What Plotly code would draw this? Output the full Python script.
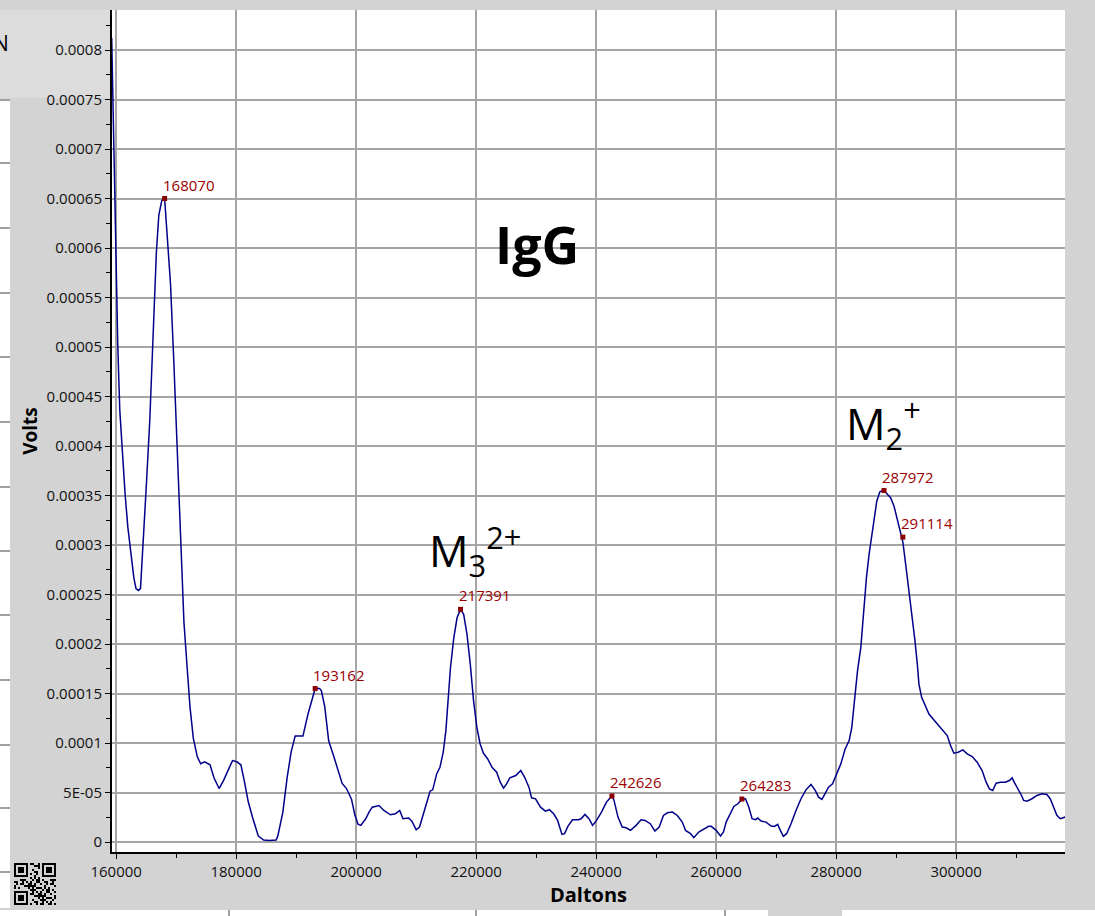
import plotly.graph_objects as go

# ---------------- data ----------------
daltons = [
    159250, 159430, 159600, 159770, 160000, 160270, 160600, 161050, 161500, 161940,
    162500, 162940, 163300, 163700, 164050, 164470, 165030, 165590, 166150, 166700,
    167100, 167600, 168070, 168490, 169050, 169610, 170170, 170730, 171290, 171850,
    172290, 172850, 173520, 174080, 174750, 175640, 176310, 177150, 177880, 178660,
    179390, 180110, 180780, 181340, 182010, 182740, 183690, 184580, 185530, 186650,
    186930, 187770, 188490, 189160, 189830, 190560, 191120, 191960, 192800, 193162,
    193900, 194190, 194750, 195420, 196150, 196990, 197660, 198380, 199220, 199780,
    200300, 200770, 201590, 202140, 202690, 203790, 204610, 205710, 206540, 207250,
    207800, 208740, 209280, 210000, 210550, 211210, 211760, 212310, 212750, 213410,
    213960, 214500, 214940, 215330, 215710, 216260, 216810, 217391, 217910, 218460,
    219010, 219560, 220110, 220660, 221210, 221920, 222640, 223410, 224010, 224560,
    225060, 225610, 226590, 227420, 228080, 228790, 229230, 229890, 230720, 231540,
    232200, 232910, 233570, 234290, 234730, 235280, 236050, 237040, 237480, 238130,
    238790, 239400, 240060, 240880, 241710, 242626, 242970, 243630, 244340, 245000,
    245720, 246650, 247480, 248140, 249010, 249780, 250500, 251210, 251870, 252700,
    253520, 254350, 254890, 255720, 256270, 257090, 257920, 258740, 259170, 260000,
    260720, 261220, 261660, 262330, 262940, 263600, 264283, 264880, 265430, 265980,
    266540, 266930, 267480, 268310, 269140, 269700, 270250, 270690, 271190, 271740,
    272470, 273300, 274130, 274960, 275800, 276510, 277060, 277620, 278170, 278730,
    279390, 280050, 280770, 281490, 282160, 282600, 282990, 283550, 284100, 284540,
    285040, 285480, 285930, 286320, 286760, 287260, 287700, 287972, 288530, 289090,
    289640, 290190, 290750, 291114, 291580, 292130, 292690, 293130, 293520, 293790,
    294240, 294900, 295460, 296290, 297120, 297950, 298500, 299060, 299610, 300330,
    301110, 301830, 302660, 303490, 304320, 304990, 305540, 306090, 306650, 307370,
    308200, 308860, 309310, 309750, 310300, 310740, 311250, 311800, 312630, 313460,
    314290, 315120, 315670, 316230, 316780, 317340, 318170,
]
volts = [
    0.000812, 0.000750, 0.000697, 0.000638, 0.000574, 0.000500, 0.000436, 0.000387, 0.000350, 0.000318,
    0.000286, 0.000267, 0.000256, 0.000254, 0.000256, 0.000297, 0.000361, 0.000425, 0.000510, 0.000596,
    0.000633, 0.000648, 0.000650, 0.000617, 0.000564, 0.000484, 0.000393, 0.000302, 0.000222, 0.000174,
    0.000137, 0.000105, 0.000086, 0.000079, 0.000081, 0.000078, 0.0000647, 0.000054, 0.000062, 0.0000726,
    0.0000822, 0.000081, 0.000078, 0.000062, 0.0000406, 0.0000245, 0.0000059, 0.000002, 0.0000016, 0.000002,
    0.0000059, 0.000030, 0.000065, 0.000091, 0.000107, 0.000107, 0.000107, 0.000129, 0.000149, 0.000155,
    0.000155, 0.000153, 0.000137, 0.000102, 0.0000886, 0.0000726, 0.0000592, 0.000054, 0.0000432, 0.0000272,
    0.000018, 0.0000168, 0.0000235, 0.0000302, 0.0000352, 0.0000369, 0.0000319, 0.0000275, 0.0000285, 0.0000319,
    0.0000235, 0.0000242, 0.0000211, 0.0000124, 0.0000151, 0.0000285, 0.0000403, 0.0000513, 0.0000527, 0.0000688,
    0.0000755, 0.0000906, 0.000112, 0.0001426, 0.000176, 0.000206, 0.0002265, 0.000235, 0.000230, 0.000210,
    0.000180, 0.0001426, 0.0001158, 0.000099, 0.0000896, 0.0000839, 0.0000755, 0.0000705, 0.0000604, 0.0000544,
    0.0000587, 0.0000648, 0.0000671, 0.0000722, 0.0000654, 0.0000554, 0.0000446, 0.0000436, 0.0000352, 0.0000312,
    0.0000326, 0.0000285, 0.0000218, 0.0000077, 0.0000084, 0.0000158, 0.0000225, 0.0000225, 0.0000235, 0.0000279,
    0.0000235, 0.0000168, 0.0000218, 0.0000302, 0.0000403, 0.0000465, 0.0000420, 0.0000252, 0.0000151, 0.0000144,
    0.0000117, 0.0000168, 0.0000225, 0.0000218, 0.0000185, 0.0000111, 0.0000151, 0.0000268, 0.0000295, 0.0000302,
    0.0000268, 0.0000201, 0.0000117, 0.0000084, 0.0000044, 0.0000101, 0.0000134, 0.0000158, 0.0000158, 0.0000118,
    0.0000060, 0.0000101, 0.0000201, 0.0000285, 0.0000359, 0.0000386, 0.0000430, 0.0000437, 0.0000353, 0.0000235,
    0.0000225, 0.0000242, 0.0000212, 0.0000201, 0.0000161, 0.0000158, 0.0000178, 0.0000118, 0.0000057, 0.0000084,
    0.0000185, 0.0000319, 0.0000437, 0.0000527, 0.0000581, 0.0000521, 0.0000453, 0.0000430, 0.0000487, 0.0000554,
    0.0000588, 0.0000682, 0.0000789, 0.0000940, 0.0001024, 0.0001158, 0.0001394, 0.0001729, 0.0001964, 0.0002334,
    0.0002670, 0.0002905, 0.0003106, 0.0003291, 0.0003442, 0.0003536, 0.0003550, 0.0003550, 0.0003509, 0.0003476,
    0.0003392, 0.0003257, 0.0003106, 0.0003030, 0.0002804, 0.0002535, 0.0002300, 0.0002032, 0.0001797, 0.0001595,
    0.0001461, 0.0001360, 0.0001293, 0.0001232, 0.0001175, 0.0001118, 0.0001075, 0.0000974, 0.0000897, 0.0000907,
    0.0000930, 0.0000890, 0.0000863, 0.0000806, 0.0000722, 0.0000604, 0.0000537, 0.0000520, 0.0000594, 0.0000604,
    0.0000604, 0.0000621, 0.0000648, 0.0000594, 0.0000537, 0.0000487, 0.0000420, 0.0000413, 0.0000437, 0.0000470,
    0.0000487, 0.0000480, 0.0000437, 0.0000353, 0.0000269, 0.0000235, 0.0000252,
]

peak_daltons = [168070, 193162, 217391, 242626, 264283, 287972, 291114]
peak_volts = [0.000650, 0.000155, 0.000235, 0.0000465, 0.0000434, 0.000355, 0.000308]
peak_labels = ["168070", "193162", "217391", "242626", "264283", "287972", "291114"]

x_tickvals = [160000, 180000, 200000, 220000, 240000, 260000, 280000, 300000]
x_ticktext = ["160000", "180000", "200000", "220000", "240000", "260000", "280000", "300000"]
y_tickvals = [0, 0.00005, 0.0001, 0.00015, 0.0002, 0.00025, 0.0003, 0.00035, 0.0004,
              0.00045, 0.0005, 0.00055, 0.0006, 0.00065, 0.0007, 0.00075, 0.0008]
y_ticktext = ["0", "5E-05", "0.0001", "0.00015", "0.0002", "0.00025", "0.0003", "0.00035", "0.0004",
              "0.00045", "0.0005", "0.00055", "0.0006", "0.00065", "0.0007", "0.00075", "0.0008"]

# ---------------- layout geometry ----------------
W, H = 1095, 916
ML, MR, MT, MB = 112, 30, 10, 64
PW, PH = W - ML - MR, H - MT - MB


def px(x):
    return (x - ML) / PW


def py(y):
    return (H - MB - y) / PH


FONT = "Open Sans"
PEAK_RED = "#9a0000"

fig = go.Figure()
fig.add_trace(go.Scatter(
    x=daltons, y=volts, mode="lines",
    line=dict(color="#00008b", width=1.5), hoverinfo="skip", cliponaxis=True,
))
fig.add_trace(go.Scatter(
    x=peak_daltons, y=peak_volts, mode="markers",
    marker=dict(symbol="square", size=5, color="#8b0000"), hoverinfo="skip",
))

annotations = []
for xd, yv, lab in zip(peak_daltons, peak_volts, peak_labels):
    annotations.append(dict(
        x=xd, y=yv, text=lab, showarrow=False, xanchor="left", yanchor="bottom",
        xshift=-4, yshift=2, font=dict(family=FONT, size=15, color=PEAK_RED),
    ))

annotations += [
    dict(x=px(537), y=py(243), xref="paper", yref="paper", text="<b>IgG</b>", showarrow=False,
         xanchor="center", yanchor="middle",
         font=dict(family=FONT, size=52, color="black")),
    dict(x=px(427), y=py(551), xref="paper", yref="paper", text="M<sub>3</sub><sup>2+</sup>",
         showarrow=False, xanchor="left", yanchor="middle",
         font=dict(family=FONT, size=44, color="black")),
    dict(x=px(844), y=py(424), xref="paper", yref="paper", text="M<sub>2</sub><sup>+</sup>",
         showarrow=False, xanchor="left", yanchor="middle",
         font=dict(family=FONT, size=44, color="black")),
    dict(x=px(11), y=py(43), xref="paper", yref="paper", text="N", showarrow=False,
         xanchor="right", yanchor="middle", font=dict(family=FONT, size=21, color="black")),
]

# ---------------- decorative screenshot background pieces ----------------
shapes = []
GRAYLINE = "#a0a0a0"
# lighter box top-left
shapes.append(dict(type="rect", xref="paper", yref="paper", x0=px(0), x1=px(110), y0=py(10), y1=py(98),
                   fillcolor="#dcdcdc", line=dict(width=0), layer="below"))
# white strip on the left
shapes.append(dict(type="rect", xref="paper", yref="paper", x0=px(0), x1=px(10), y0=py(99), y1=py(908),
                   fillcolor="white", line=dict(width=0), layer="below"))
for yy in [100, 163, 228, 293, 357, 422, 487, 551, 615, 680, 745, 808, 872]:
    shapes.append(dict(type="line", xref="paper", yref="paper", x0=px(0), x1=px(10), y0=py(yy), y1=py(yy),
                       line=dict(color=GRAYLINE, width=2), layer="below"))
# white strip at the bottom
shapes.append(dict(type="rect", xref="paper", yref="paper", x0=px(0), x1=px(768), y0=py(910), y1=py(916),
                   fillcolor="white", line=dict(width=0), layer="below"))
shapes.append(dict(type="rect", xref="paper", yref="paper", x0=px(842), x1=px(1095), y0=py(910), y1=py(916),
                   fillcolor="white", line=dict(width=0), layer="below"))
for xx in [229, 476, 725]:
    shapes.append(dict(type="line", xref="paper", yref="paper", x0=px(xx), x1=px(xx), y0=py(910), y1=py(916),
                       line=dict(color=GRAYLINE, width=2), layer="below"))

# small QR-like code bottom-left
qx0, qy0, mod, n = 14, 863, 2, 21
path = []


def cell(i, j):
    x0, y0 = qx0 + j * mod, qy0 + i * mod
    return f"M{px(x0)},{py(y0)}L{px(x0 + mod)},{py(y0)}L{px(x0 + mod)},{py(y0 + mod)}L{px(x0)},{py(y0 + mod)}Z"


def in_finder(i, j):
    for (fi, fj) in [(0, 0), (0, n - 7), (n - 7, 0)]:
        if fi - 1 <= i <= fi + 7 and fj - 1 <= j <= fj + 7:
            return True, (i - fi, j - fj)
    return False, None


for i in range(n):
    for j in range(n):
        f, rel = in_finder(i, j)
        if f:
            a, b = rel
            if 0 <= a <= 6 and 0 <= b <= 6:
                if a in (0, 6) or b in (0, 6) or (2 <= a <= 4 and 2 <= b <= 4):
                    path.append(cell(i, j))
        else:
            if (i * 7 + j * 11 + (i * j) % 5) % 3 == 0 or (i + 2 * j) % 5 == 1:
                path.append(cell(i, j))
shapes.append(dict(type="path", xref="paper", yref="paper", path="".join(path),
                   fillcolor="black", line=dict(width=0)))

AXFONT = dict(family=FONT, size=15, color="#111111")

fig.update_layout(
    width=W, height=H,
    margin=dict(l=ML, r=MR, t=MT, b=MB, autoexpand=False),
    paper_bgcolor="#d3d3d3", plot_bgcolor="white",
    showlegend=False,
    font=dict(family=FONT, color="#111111"),
    annotations=annotations,
    shapes=shapes,
    xaxis=dict(
        range=[159300, 159300 + PW * 166.667],
        tickmode="array", tickvals=x_tickvals, ticktext=x_ticktext,
        ticks="outside", ticklen=5, tickwidth=1, tickcolor="black",
        showline=True, linecolor="black", linewidth=2,
        showgrid=True, gridcolor="#a5a5a5", gridwidth=2, zeroline=False,
        minor=dict(tickmode="linear", tick0=160000, dtick=10000, ticks="outside",
                   ticklen=4, tickwidth=1, tickcolor="black", showgrid=False),
        tickfont=AXFONT,
        title=dict(text="<b>Daltons</b>", font=dict(family=FONT, size=20, color="black"), standoff=6),
        automargin=False,
    ),
    yaxis=dict(
        range=[-0.0000101, 0.0008404],
        tickmode="array", tickvals=y_tickvals, ticktext=y_ticktext,
        ticks="outside", ticklen=5, tickwidth=1, tickcolor="black",
        showline=True, linecolor="black", linewidth=2,
        showgrid=True, gridcolor="#a5a5a5", gridwidth=2, zeroline=False,
        minor=dict(tickmode="linear", tick0=0, dtick=0.000025, ticks="outside",
                   ticklen=4, tickwidth=1, tickcolor="black", showgrid=False),
        tickfont=AXFONT,
        title=dict(text="<b>Volts</b>", font=dict(family=FONT, size=19, color="black"), standoff=4),
        automargin=False,
    ),
)

fig.write_html("out.html")
